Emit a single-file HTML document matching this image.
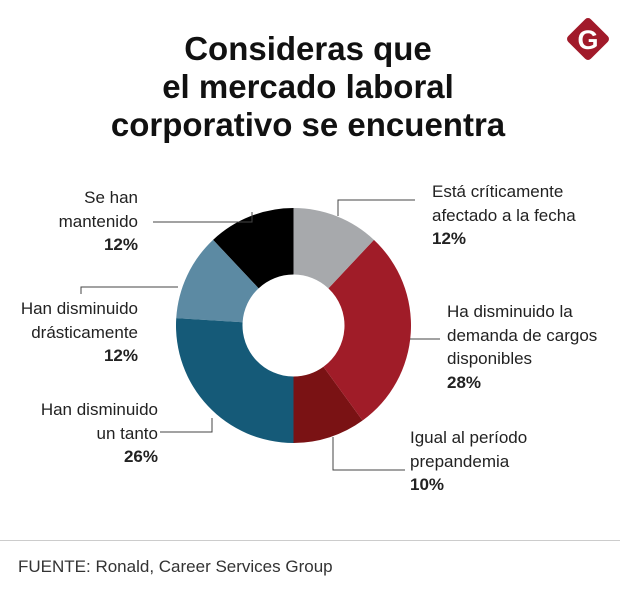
<!DOCTYPE html>
<html><head><meta charset="utf-8"><style>
body{margin:0;background:#fff;font-family:"Liberation Sans",sans-serif;}
#w{position:relative;width:620px;height:608px;overflow:hidden;background:#fff}
.t{position:absolute;left:0;width:616px;text-align:center;font-weight:bold;font-size:33px;line-height:38px;top:30px;color:#111;letter-spacing:0px}
.lb{position:absolute;font-size:17px;line-height:23.5px;color:#222;white-space:nowrap}
.lb b{font-weight:bold}
.r{text-align:right}
</style></head><body>
<div id="w">
<div class="t">Consideras que<br>el mercado laboral<br>corporativo se encuentra</div>
<svg style="position:absolute;left:563px;top:14px" width="50" height="50">
<rect x="9" y="9" width="32" height="32" rx="4" fill="#a11a2a" transform="rotate(45 25 25)"/>
<text x="25" y="35" text-anchor="middle" font-family="Liberation Sans" font-weight="bold" font-size="27" fill="#fff">G</text></svg>
<svg id="c" width="620" height="608" style="position:absolute;left:0;top:0">
<g stroke="#444" stroke-width="1" fill="none">
<polyline points="153,222 252,222 252,212"/>
<polyline points="415,200 338,200 338,216"/>
<polyline points="81,294 81,287 178,287"/>
<polyline points="410,339 440,339"/>
<polyline points="160,432 212,432 212,418"/>
<polyline points="333,437 333,470 405,470"/>
</g>
</svg>
<div class="lb r" style="right:482px;top:186px">Se han<br>mantenido<br><b>12%</b></div>
<div class="lb" style="left:432px;top:180px">Está críticamente<br>afectado a la fecha<br><b>12%</b></div>
<div class="lb r" style="right:482px;top:297px">Han disminuido<br>drásticamente<br><b>12%</b></div>
<div class="lb" style="left:447px;top:300px">Ha disminuido la<br>demanda de cargos<br>disponibles<br><b>28%</b></div>
<div class="lb r" style="right:462px;top:398px">Han disminuido<br>un tanto<br><b>26%</b></div>
<div class="lb" style="left:410px;top:426px">Igual al período<br>prepandemia<br><b>10%</b></div>
<div style="position:absolute;left:0;top:540px;width:620px;height:1px;background:#ccc"></div>
<div class="lb" style="left:18px;top:555px;font-size:17px;color:#333">FUENTE: Ronald, Career Services Group</div>
</div>
<script>
const categories=["Está críticamente afectado a la fecha","Ha disminuido la demanda de cargos disponibles","Igual al período prepandemia","Han disminuido un tanto","Han disminuido drásticamente","Se han mantenido"];
const values=[12,28,10,26,12,12];
const colors=["#a7a9ac","#a01c28","#7a1214","#155a78","#5c8aa3","#000000"];
const svg=document.getElementById('c');
const cx=293.5,cy=325.5,R=117.5,r=51;
const total=values.reduce((a,b)=>a+b,0);
function ang(v){return v/total*2*Math.PI-Math.PI/2;}
function pt(a,rad){return [cx+rad*Math.cos(a),cy+rad*Math.sin(a)];}
let acc=0;
values.forEach((v,i)=>{
 const a0=ang(acc),a1=ang(acc+v);acc+=v;
 const big=(a1-a0)>Math.PI?1:0;
 const p0=pt(a0,R),p1=pt(a1,R),q1=pt(a1,r),q0=pt(a0,r);
 const p=document.createElementNS('http://www.w3.org/2000/svg','path');
 p.setAttribute('d',`M${p0}A${R},${R} 0 ${big} 1 ${p1}L${q1}A${r},${r} 0 ${big} 0 ${q0}Z`);
 p.setAttribute('fill',colors[i]);
 
 
 svg.insertBefore(p,svg.firstChild);
});
</script>
</body></html>
